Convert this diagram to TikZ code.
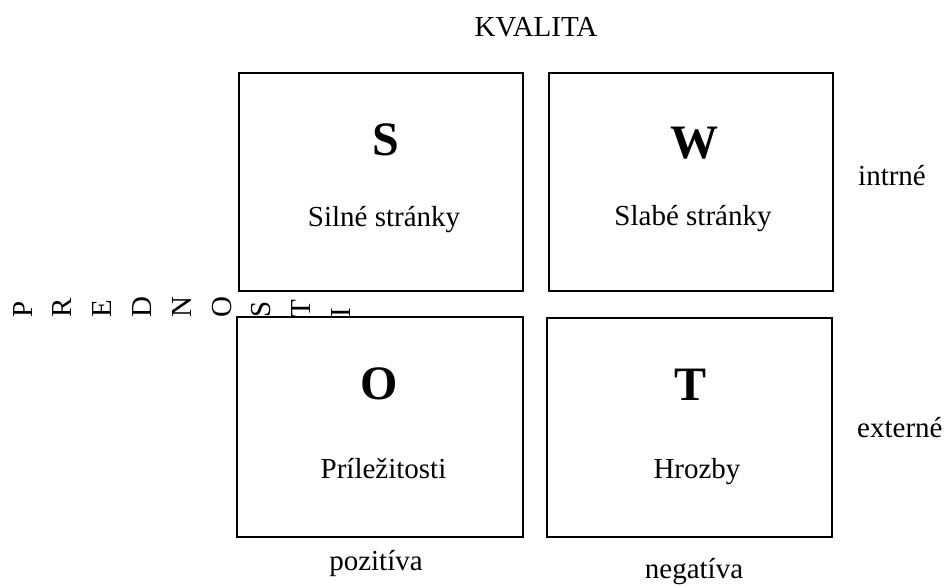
\documentclass[tikz,border=0pt]{standalone}
\usepackage{fontspec}
\setmainfont{Liberation Serif}
\begin{document}
\begin{tikzpicture}[x=1pt,y=-1pt,
  quad/.style={draw=black,line width=2.4pt,fill=white,inner sep=0pt,rectangle},
  bigletter/.style={font=\fontsize{48}{50}\selectfont\bfseries,inner sep=0pt,anchor=base},
  caption/.style={font=\fontsize{29}{32}\selectfont,inner sep=0pt,anchor=base},
  sideletter/.style={font=\fontsize{29}{32}\selectfont,inner sep=0pt,rotate=90,anchor=base west}]
\useasboundingbox (0,0) rectangle (944,586);

% vertical axis caption, one letter per line
\foreach \ch [count=\i from 0] in {P,R,E,D,N,O,S,T,I}{
  \node[sideletter] (pred\i) at ({32+39.8*\i},317.5) {\ch};
}

% the four quadrants
\node[quad,minimum width=284pt,minimum height=218pt] (sbox) at (381,182) {};
\node[quad,minimum width=284pt,minimum height=218pt] (wbox) at (691,182) {};
\node[quad,minimum width=286pt,minimum height=220pt] (obox) at (380,427) {};
\node[quad,minimum width=285pt,minimum height=219pt] (tbox) at (689.5,427.5) {};

% quadrant contents
\node[bigletter] (sl) at (385.5,155) {S};
\node[caption]   (st) at (384,226) {Silné stránky};
\node[bigletter] (wl) at (694,158) {W};
\node[caption]   (wt) at (693,225) {Slabé stránky};
\node[bigletter] (ol) at (379.5,399.5) {O};
\node[caption]   (ot) at (383.5,478) {Príležitosti};
\node[bigletter] (tl) at (690,400) {T};
\node[caption]   (tt) at (697,478) {Hrozby};

% axis captions
\node[caption] (kval) at (536,37) {KVALITA};
\node[caption,anchor=base west] (intr) at (858,185) {intrné};
\node[caption,anchor=base west] (ext) at (857,437) {externé};
\node[caption] (poz) at (376,570) {pozitíva};
\node[caption] (neg) at (694,578) {negatíva};
\end{tikzpicture}
\end{document}
